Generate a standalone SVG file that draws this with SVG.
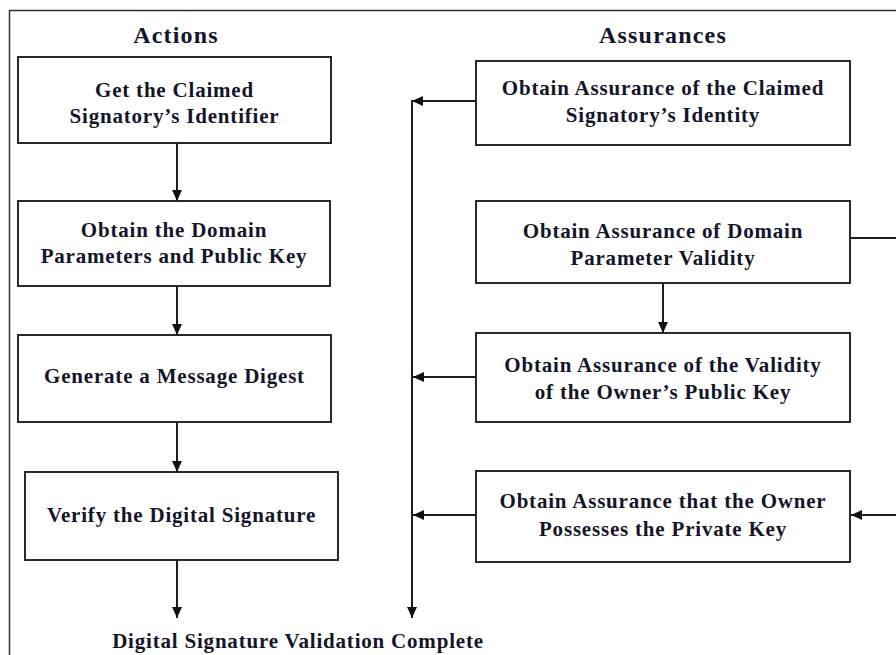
<svg xmlns="http://www.w3.org/2000/svg" width="896" height="655" viewBox="0 0 896 655">
  <style>
    .box { fill: #ffffff; stroke: #2a2a2a; stroke-width: 2; }
    .lbl { font-family: "Liberation Serif", "DejaVu Serif", "Noto Serif", serif; font-weight: bold; font-size: 21px; letter-spacing: 0.8px; fill: #15152a; text-anchor: middle; }
    .head { font-family: "Liberation Serif", "DejaVu Serif", "Noto Serif", serif; font-weight: bold; font-size: 24px; letter-spacing: 1.2px; fill: #15152a; text-anchor: middle; }
    .wire { fill: none; stroke: #1e1e1e; stroke-width: 2; }
    .arr { marker-end: url(#tip); }
  </style>
  <defs>
    <marker id="tip" viewBox="0 0 10 10" refX="10" refY="5" markerWidth="11" markerHeight="11" markerUnits="userSpaceOnUse" orient="auto">
      <path d="M0,0.5 L10,5 L0,9.5 Z" fill="#111111"/>
    </marker>
  </defs>
  <rect width="896" height="655" fill="#ffffff"/>

  <!-- outer frame, open at right and bottom -->
  <path d="M9.5,655 V10.5 H896" fill="none" stroke="#333333" stroke-width="1.5"/>

  <text class="head" x="176" y="43">Actions</text>
  <text class="head" x="663" y="43">Assurances</text>

  <g id="get-identifier">
    <rect class="box" x="18" y="57" width="313" height="86"/>
    <text class="lbl" x="174.5" y="97">Get the Claimed</text>
    <text class="lbl" x="174.5" y="123">Signatory’s Identifier</text>
  </g>
  <g id="obtain-domain-params">
    <rect class="box" x="18" y="201" width="312" height="85"/>
    <text class="lbl" x="174" y="237">Obtain the Domain</text>
    <text class="lbl" x="174" y="263">Parameters and Public Key</text>
  </g>
  <g id="generate-digest">
    <rect class="box" x="18" y="335" width="313" height="87"/>
    <text class="lbl" x="174.5" y="383">Generate a Message Digest</text>
  </g>
  <g id="verify-signature">
    <rect class="box" x="25" y="472" width="313" height="88"/>
    <text class="lbl" x="181.5" y="522">Verify the Digital Signature</text>
  </g>

  <g id="assure-identity">
    <rect class="box" x="476" y="61" width="374" height="84"/>
    <text class="lbl" x="663" y="95">Obtain Assurance of the Claimed</text>
    <text class="lbl" x="663" y="122">Signatory’s Identity</text>
  </g>
  <g id="assure-domain-validity">
    <rect class="box" x="476" y="201" width="374" height="82"/>
    <text class="lbl" x="663" y="238">Obtain Assurance of Domain</text>
    <text class="lbl" x="663" y="265">Parameter Validity</text>
  </g>
  <g id="assure-pubkey-validity">
    <rect class="box" x="476" y="333" width="374" height="89"/>
    <text class="lbl" x="663" y="372">Obtain Assurance of the Validity</text>
    <text class="lbl" x="663" y="399">of the Owner’s Public Key</text>
  </g>
  <g id="assure-private-key">
    <rect class="box" x="476" y="471" width="374" height="91"/>
    <text class="lbl" x="663" y="508">Obtain Assurance that the Owner</text>
    <text class="lbl" x="663" y="536">Possesses the Private Key</text>
  </g>

  <g id="complete">
    <text class="lbl" x="298" y="648">Digital Signature Validation Complete</text>
  </g>

  <g id="connectors">
    <line class="wire arr" x1="177" y1="143" x2="177" y2="201"/>
    <line class="wire arr" x1="177" y1="286" x2="177" y2="335"/>
    <line class="wire arr" x1="177" y1="422" x2="177" y2="472"/>
    <line class="wire arr" x1="177" y1="560" x2="177" y2="618"/>

    <line class="wire arr" x1="476" y1="101" x2="412" y2="101"/>
    <line class="wire arr" x1="412" y1="100" x2="412" y2="618"/>
    <line class="wire arr" x1="476" y1="377" x2="413" y2="377"/>
    <line class="wire arr" x1="476" y1="515" x2="413" y2="515"/>

    <line class="wire arr" x1="663" y1="283" x2="663" y2="333"/>
    <line class="wire" x1="850" y1="238" x2="896" y2="238"/>
    <line class="wire arr" x1="896" y1="515" x2="851" y2="515"/>
  </g>
</svg>
